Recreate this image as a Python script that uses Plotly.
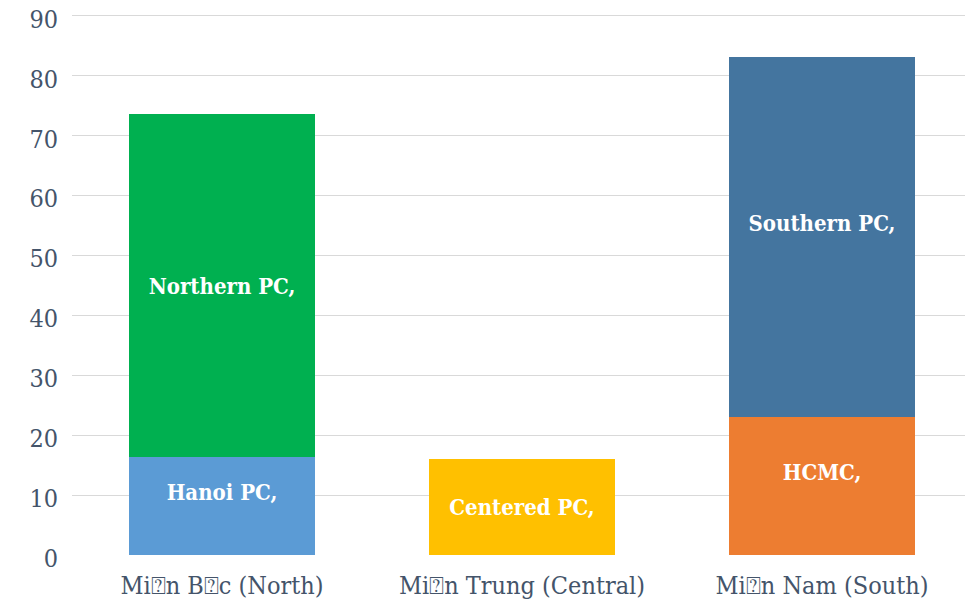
import plotly.graph_objects as go

categories = ["Mi⍰n B⍰c (North)", "Mi⍰n Trung (Central)", "Mi⍰n Nam (South)"]

series_names = ["Hanoi PC", "Northern PC", "Centered PC", "HCMC", "Southern PC"]
hanoi = [16.3, 0, 0]
northern = [57.3, 0, 0]
centered = [0, 16.0, 0]
hcmc = [0, 0, 23.0]
southern = [0, 0, 60.2]
colors = ["#5B9BD5", "#00B050", "#FFC000", "#ED7D31", "#44759F"]
labels = ["Hanoi PC,<br> ", "Northern PC,", "Centered PC,", "HCMC,<br> ", "Southern PC,<br> "]
y_ticks = [0, 10, 20, 30, 40, 50, 60, 70, 80, 90]

values = [hanoi, northern, centered, hcmc, southern]

font_family = "DejaVu Serif Condensed, DejaVu Serif, serif"
tick_color = "#44546A"

fig = go.Figure()
for name, vals, col, lab in zip(series_names, values, colors, labels):
    fig.add_trace(go.Bar(
        x=categories,
        y=[v if v > 0 else None for v in vals],
        name=name,
        marker=dict(color=col, line=dict(width=0)),
        text=[lab if v > 0 else "" for v in vals],
        textposition="inside",
        insidetextanchor="middle",
        textangle=0,
        constraintext="none",
        textfont=dict(color="white", size=22, family=font_family, weight="bold"),
    ))

# page body has an 8px margin, so the figure is shrunk by 8px and margins reduced
fig.update_layout(
    barmode="stack",
    bargap=0.38,
    width=965,
    height=595,
    margin=dict(l=64, r=1, t=5, b=48, autoexpand=False),
    plot_bgcolor="white",
    paper_bgcolor="white",
    showlegend=False,
    font=dict(family=font_family, color=tick_color, size=25),
)
fig.update_yaxes(
    range=[0, 90.5],
    tickvals=y_ticks,
    showgrid=True,
    gridcolor="#D9D9D9",
    gridwidth=1,
    zeroline=False,
    showline=False,
    ticks="",
    automargin=False,
    ticklabelstandoff=13,
    ticklabelshift=3,
    ticklabeloverflow="allow",
    tickfont=dict(size=25, color=tick_color, family=font_family),
)
fig.update_xaxes(
    showgrid=False,
    showline=False,
    ticks="",
    automargin=False,
    ticklabelstandoff=13,
    tickfont=dict(size=25, color=tick_color, family=font_family),
)

fig.write_html("out.html")
